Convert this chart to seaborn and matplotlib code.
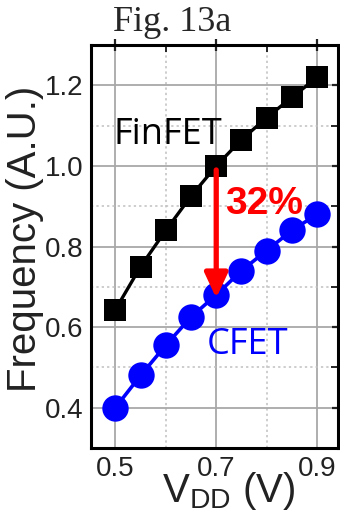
"""
Fig. 13a: ring oscillator frequency vs supply voltage, FinFET vs CFET
"""

import numpy as np
import pandas as pd
import matplotlib
matplotlib.use("Agg")
import matplotlib.pyplot as plt
import seaborn as sns
from matplotlib.ticker import MultipleLocator

# data
vdd = [0.50, 0.55, 0.60, 0.65, 0.70, 0.75, 0.80, 0.85, 0.90]
finfet = [0.643, 0.750, 0.840, 0.925, 1.000, 1.065, 1.120, 1.170, 1.220]
cfet = [0.400, 0.480, 0.555, 0.625, 0.680, 0.740, 0.790, 0.840, 0.880]

arrow_x = 0.70
arrow_top = 0.99
arrow_bottom = 0.672
gain_label = "32%"

df = pd.DataFrame({"vdd": vdd, "FinFET": finfet, "CFET": cfet})

sns.set_style("white")
plt.rcParams["font.family"] = ["Liberation Sans", "DejaVu Sans"]
plt.rcParams["mathtext.fontset"] = "custom"
plt.rcParams["mathtext.rm"] = "Liberation Sans"

fig = plt.figure(figsize=(3.4, 5.12), dpi=100)
ax = fig.add_axes([0.268, 0.125, 0.727, 0.787])

# grid
ax.xaxis.set_major_locator(MultipleLocator(0.2))
ax.xaxis.set_minor_locator(MultipleLocator(0.1))
ax.yaxis.set_major_locator(MultipleLocator(0.2))
ax.yaxis.set_minor_locator(MultipleLocator(0.1))
ax.grid(which="major", color="#a8a8a8", lw=1.3, ls="-", zorder=0)
ax.grid(which="minor", color="#c0c0c0", lw=1.1, ls=(0, (1.5, 2)), zorder=0)
ax.set_axisbelow(True)

sns.lineplot(data=df, x="vdd", y="FinFET", ax=ax, color="black", lw=2.4,
             marker="s", markersize=16.5, markeredgewidth=0, zorder=3)
sns.lineplot(data=df, x="vdd", y="CFET", ax=ax, color="#0000ff", lw=2.6,
             marker="o", markersize=19, markeredgewidth=0, zorder=3)

ax.set_xlim(0.452, 0.942)
ax.set_ylim(0.3, 1.3)
ax.set_xticks([0.5, 0.7, 0.9])
ax.set_xticks([0.6, 0.8], minor=True)
ax.set_xticklabels(["0.5", "0.7", "0.9"])

ax.tick_params(which="major", direction="inout", length=9, width=1.6,
               top=True, right=True, labelsize=20, colors="#222222", pad=1)
ax.tick_params(which="minor", direction="in", length=5, width=1.4,
               top=True, right=True)
for s in ax.spines.values():
    s.set_color("black")
    s.set_linewidth(2.2)

ax.set_xlabel(r"V$_{\mathregular{DD}}$ (V)", fontsize=29, color="#222222")
ax.xaxis.set_label_coords(0.555, -0.055)
ax.set_ylabel("Frequency (A.U.)", fontsize=29, color="#222222")
ax.yaxis.set_label_coords(-0.19, 0.52)
ax.set_title("Fig. 13a", fontsize=26, family="Liberation Serif", pad=10, x=0.328)

# 32% drop arrow
ax.annotate("", xy=(arrow_x, arrow_bottom), xytext=(arrow_x, arrow_top),
            arrowprops=dict(arrowstyle="-|>,head_length=1.5,head_width=0.7",
                            color="#ff0000", lw=3.8, shrinkA=0, shrinkB=0),
            zorder=5)
ax.text(0.795, 0.905, gain_label, color="#ff0000", fontsize=28, fontweight="bold",
        ha="center", va="center", zorder=6)

ax.text(0.605, 1.077, "FinFET", color="black", fontsize=26, family="Open Sans",
        ha="center", va="center", zorder=6)
ax.text(0.763, 0.556, "CFET", color="#0000ff", fontsize=26, family="Open Sans",
        ha="center", va="center", zorder=6)

plt.savefig("out.png", dpi=100)
